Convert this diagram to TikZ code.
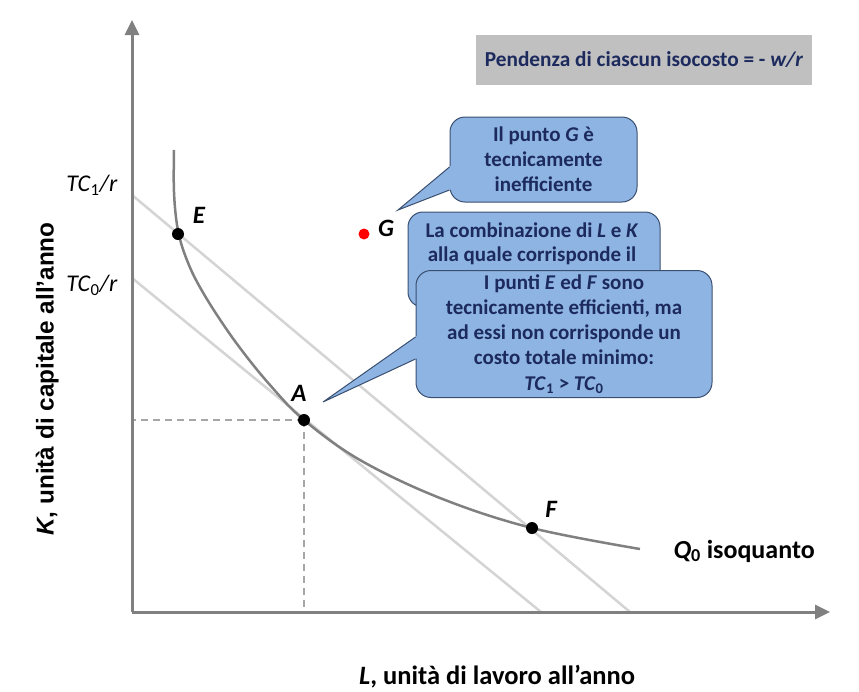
\documentclass[tikz,border=0pt]{standalone}
\usepackage{fontspec}
\setmainfont{Carlito}
\newfontfamily\arialfont{Liberation Sans}
\usetikzlibrary{arrows.meta,calc}
\definecolor{navy}{HTML}{1C2A5E}
\definecolor{cfill}{HTML}{8EB4E3}
\definecolor{cborder}{HTML}{3A4F70}
\definecolor{axisgray}{HTML}{808080}
\definecolor{isogray}{HTML}{D4D4D4}
\definecolor{guidegray}{HTML}{A6A6A6}
\definecolor{boxgray}{HTML}{C0C0C0}
\begin{document}
\begin{tikzpicture}[x=1pt,y=-1pt,
  axis/.style={draw=axisgray, line width=3pt, -{Triangle[length=15pt,width=14pt]}},
  isocost/.style={draw=isogray, line width=2.5pt},
  isoq/.style={draw=axisgray, line width=2.5pt},
  guide/.style={draw=guidegray, line width=1.5pt, dash pattern=on 7pt off 5pt},
  dot/.style={circle, fill=black, inner sep=0pt, minimum size=12pt},
  reddot/.style={circle, fill=red, inner sep=0pt, minimum size=11pt},
  ptlabel/.style={font=\fontsize{25}{28}\selectfont\bfseries\itshape},
  tclabel/.style={font=\fontsize{24}{26}\selectfont, anchor=east},
  callout/.style={draw=cborder, line width=1pt, fill=cfill, rounded corners=15pt,
    text=navy, align=center, font=\fontsize{21}{25}\selectfont\bfseries, inner sep=0pt},
  callouttext/.style={text=navy, align=center, font=\fontsize{21}{24}\selectfont\bfseries, inner sep=0pt},
  pointer/.style={fill=cfill},
  pointeredge/.style={draw=cborder, line width=1pt}
]
\useasboundingbox (0,0) rectangle (859,691);

% coordinates of axes
\coordinate (O) at (132,612);
\coordinate (Ytop) at (132,20);
\coordinate (Xend) at (830,612);

% isocost lines
\coordinate (T1a) at (132,195);
\coordinate (T1b) at (630,612);
\coordinate (T0a) at (132,278);
\coordinate (T0b) at (541,612);
\draw[isocost] (T1a) -- (T1b);
\draw[isocost] (T0a) -- (T0b);

% guide lines from A
\coordinate (Ap) at (304,420);
\coordinate (Ay) at (132,420);
\coordinate (Ax) at (304,612);
\draw[guide] (Ap) -- (Ay);
\draw[guide] (Ap) -- (Ax);

% isoquant
\draw[isoq] plot[smooth, tension=0.6] coordinates {(174,150) (173.8,186) (175.6,214) (179,235) (185,255) (196,280) (215,312) (240,348) (270,385) (304,420) (360,460) (440,498) (532,528) (640,549)};

% axes
\draw[axis] (O) -- (Ytop);
\draw[axis] (O) -- (Xend);

\node[dot] (E) at (178,234) {};
\node[dot] (A) at (304,420) {};
\node[dot] (F) at (532,528) {};
\node[reddot] (G) at (364,234) {};

\node[ptlabel] (Elab) at (199,215) {E};
\node[ptlabel] (Alab) at (299,393) {A};
\node[ptlabel] (Flab) at (551,509) {F};
\node[ptlabel] (Glab) at (386,228) {G};

\node[tclabel] (tc1) at (121,185) {\textit{TC}\textsubscript{1}\textit{/r}};
\node[tclabel] (tc0) at (121,285) {\textit{TC}\textsubscript{0}\textit{/r}};

\node[font=\fontsize{26}{28}\selectfont\bfseries, anchor=west] (q0) at (670,551) {\textit{Q}\textsubscript{0} isoquanto};

\node[font=\fontsize{26.5}{28}\selectfont\bfseries] (xlab) at (497,677) {\textit{L}, unità di lavoro all’anno};
\node[font=\arialfont\fontsize{24.3}{26}\selectfont\bfseries, rotate=90, anchor=base] (ylab) at (53.5,379) {\textit{K}, unità di capitale all’anno};

% top box
\node[fill=boxgray, minimum width=336pt, minimum height=50pt, inner sep=0pt,
  text=navy, font=\fontsize{21.3}{24}\selectfont\bfseries] (slope) at (644,60)
  {Pendenza di ciascun isocosto = - \textit{w/r}};

% callout 1
\node[callout, minimum width=187pt, minimum height=85pt] (c1) at (543.5,159.5)
  {Il punto \textit{G} è\\tecnicamente\\inefficiente};
\coordinate (tip1) at (398,210);
\fill[pointer] (tip1) -- ($(tip1)!1.05!($(c1.west)+(0,7.5)$)$) -- ($(tip1)!1.05!($(c1.west)+(0,30.5)$)$) -- cycle;
\draw[pointeredge] ($(c1.west)+(0,7.5)$) -- (tip1) -- ($(c1.west)+(0,30.5)$);

% callout 2 (mostly hidden)
\node[callout, minimum width=252pt, minimum height=95pt] (c2) at (534,259.5) {};
\node[callouttext, anchor=base] (c2text) at (532,285)
  {La combinazione di \textit{L} e \textit{K}\\alla quale corrisponde il\\costo totale minimo è \textit{A}};

% callout 3
\node[callout, minimum width=296pt, minimum height=127pt, font=\fontsize{21}{25.2}\selectfont\bfseries] (c3) at (564,334)
  {I punti \textit{E} ed \textit{F} sono\\tecnicamente efficienti, ma\\ad essi non corrisponde un\\costo totale minimo:\\\textit{TC}\textsubscript{1} > \textit{TC}\textsubscript{0}};
\coordinate (tip3) at (323,402);
\fill[pointer] (tip3) -- ($(tip3)!1.05!($(c3.west)+(0,3)$)$) -- ($(tip3)!1.05!($(c3.west)+(0,25)$)$) -- cycle;
\draw[pointeredge] ($(c3.west)+(0,3)$) -- (tip3) -- ($(c3.west)+(0,25)$);
\end{tikzpicture}
\end{document}
